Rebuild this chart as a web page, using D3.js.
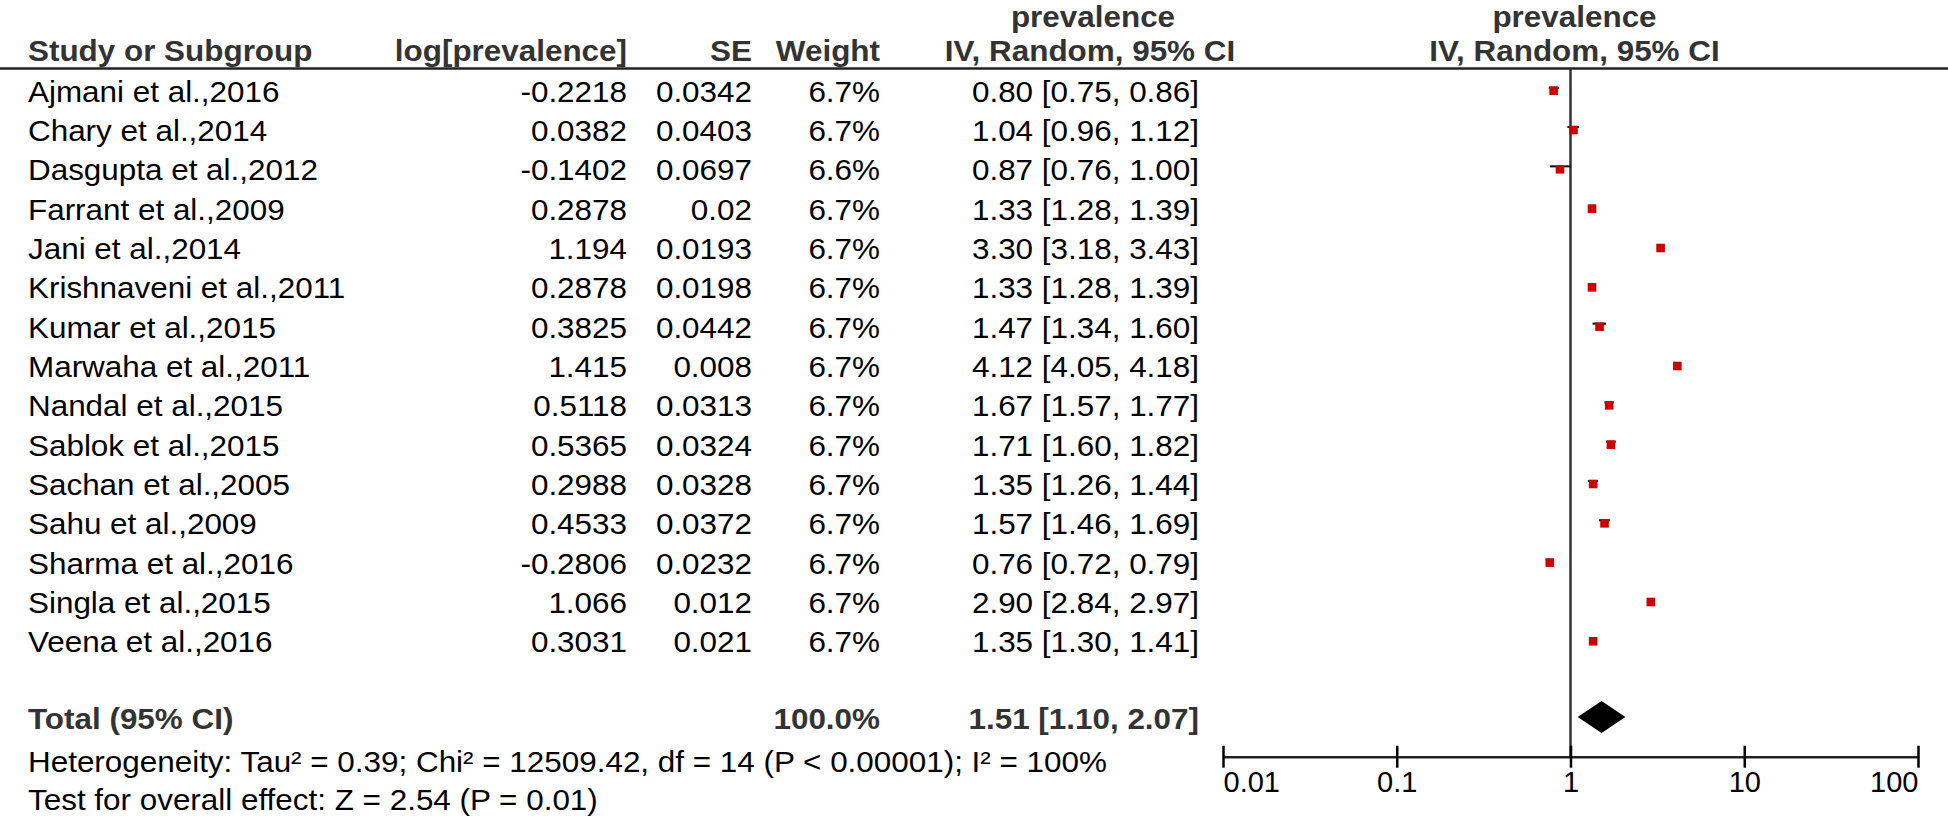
<!DOCTYPE html>
<html>
<head>
<meta charset="utf-8">
<script src="https://cdn.jsdelivr.net/npm/d3@7"></script>
<style>
  body { margin: 0; background: #fff; }
  svg text { font-family: "Liberation Sans", Arial, sans-serif; }
</style>
</head>
<body>
<svg id="svg"></svg>
<script>
// data
var studies = ['Ajmani et al.,2016', 'Chary et al.,2014', 'Dasgupta et al.,2012', 'Farrant et al.,2009',
  'Jani et al.,2014', 'Krishnaveni et al.,2011', 'Kumar et al.,2015', 'Marwaha et al.,2011',
  'Nandal et al.,2015', 'Sablok et al.,2015', 'Sachan et al.,2005', 'Sahu et al.,2009',
  'Sharma et al.,2016', 'Singla et al.,2015', 'Veena et al.,2016'];
var logPrev = [-0.2218, 0.0382, -0.1402, 0.2878, 1.194, 0.2878, 0.3825, 1.415, 0.5118, 0.5365, 0.2988, 0.4533, -0.2806, 1.066, 0.3031];
var se = [0.0342, 0.0403, 0.0697, 0.02, 0.0193, 0.0198, 0.0442, 0.008, 0.0313, 0.0324, 0.0328, 0.0372, 0.0232, 0.012, 0.021];
var weight = [6.7, 6.7, 6.6, 6.7, 6.7, 6.7, 6.7, 6.7, 6.7, 6.7, 6.7, 6.7, 6.7, 6.7, 6.7];
var prev = [0.80, 1.04, 0.87, 1.33, 3.30, 1.33, 1.47, 4.12, 1.67, 1.71, 1.35, 1.57, 0.76, 2.90, 1.35];
var prevLo = [0.75, 0.96, 0.76, 1.28, 3.18, 1.28, 1.34, 4.05, 1.57, 1.60, 1.26, 1.46, 0.72, 2.84, 1.30];
var prevHi = [0.86, 1.12, 1.00, 1.39, 3.43, 1.39, 1.60, 4.18, 1.77, 1.82, 1.44, 1.69, 0.79, 2.97, 1.41];
var totalWeight = 100.0;
var totalPrev = [1.51, 1.10, 2.07]; // estimate, lower, upper
var tickValues = [0.01, 0.1, 1, 10, 100];
var tickLabels = ['0.01', '0.1', '1', '10', '100'];
var hetText = 'Heterogeneity: Tau\u00b2 = 0.39; Chi\u00b2 = 12509.42, df = 14 (P < 0.00001); I\u00b2 = 100%';
var effectText = 'Test for overall effect: Z = 2.54 (P = 0.01)';

var width = 1948, height = 820;
var fs = 29.5, SX = 1.065;
var svg = d3.select('#svg').attr('width', width).attr('height', height);

var x = d3.scaleLog().domain([0.01, 100]).range([1223, 1918]);
var y = d3.scaleLinear().domain([0, 14]).range([90.7, 641.3]);
var box = d3.scaleSqrt().domain([0, 6.7]).range([0, 8.6]);

function txt(px, py, s, anchor, bold) {
  return svg.append('text')
    .attr('transform', 'translate(' + px + ',' + py + ') scale(' + SX + ',1)')
    .attr('text-anchor', anchor || 'start')
    .attr('font-size', fs)
    .attr('font-weight', bold ? 'bold' : 'normal')
    .attr('fill', bold ? '#333' : '#000')
    .text(s);
}

// column right edges
var cLog = 627, cSE = 752, cW = 880, cCI = 1199, cCIhead = 1090;

// header
txt(28, 61, 'Study or Subgroup', 'start', true);
txt(cLog, 61, 'log[prevalence]', 'end', true);
txt(cSE, 61, 'SE', 'end', true);
txt(cW, 61, 'Weight', 'end', true);
txt(cCIhead + 3, 27, 'prevalence', 'middle', true);
txt(cCIhead, 61, 'IV, Random, 95% CI', 'middle', true);
txt(x(1) + 4, 27, 'prevalence', 'middle', true);
txt(x(1) + 4, 61, 'IV, Random, 95% CI', 'middle', true);

svg.append('line').attr('x1', 0).attr('x2', width).attr('y1', 68.5).attr('y2', 68.5)
  .attr('stroke', '#222').attr('stroke-width', 2.5);

// study rows
studies.forEach(function (s, i) {
  var by = y(i) + 11;
  txt(28, by, s);
  txt(cLog, by, String(logPrev[i]), 'end');
  txt(cSE, by, String(se[i]), 'end');
  txt(cW, by, weight[i].toFixed(1) + '%', 'end');
  txt(cCI, by, prev[i].toFixed(2) + ' [' + prevLo[i].toFixed(2) + ', ' + prevHi[i].toFixed(2) + ']', 'end');
});

// total row
var ty = y(16) - 3;
txt(28, ty + 12, 'Total (95% CI)', 'start', true);
txt(cW, ty + 12, totalWeight.toFixed(1) + '%', 'end', true);
txt(cCI, ty + 12, totalPrev[0].toFixed(2) + ' [' + totalPrev[1].toFixed(2) + ', ' + totalPrev[2].toFixed(2) + ']', 'end', true);
txt(28, 772, hetText);
txt(28, 810, effectText);

// line of no effect
var axisY = 756.7;
svg.append('line').attr('x1', x(1)).attr('x2', x(1)).attr('y1', 68.5).attr('y2', axisY)
  .attr('stroke', '#333').attr('stroke-width', 2.5);

// CIs and boxes
var rows = svg.append('g');
studies.forEach(function (s, i) {
  var cy = y(i), b = box(weight[i]);
  rows.append('line').attr('x1', x(prevLo[i])).attr('x2', x(prevHi[i]))
    .attr('y1', cy - 3).attr('y2', cy - 3).attr('stroke', '#000').attr('stroke-width', 2);
  rows.append('rect').attr('x', x(prev[i]) - b / 2).attr('y', cy - b / 2)
    .attr('width', b).attr('height', b).attr('fill', '#cc0000');
});

// diamond
var dh = 16;
svg.append('path')
  .attr('d', 'M' + x(totalPrev[1]) + ',' + ty + 'L' + x(totalPrev[0]) + ',' + (ty - dh) +
    'L' + x(totalPrev[2]) + ',' + ty + 'L' + x(totalPrev[0]) + ',' + (ty + dh) + 'Z')
  .attr('fill', '#000');

// axis
var axis = d3.axisBottom(x).tickValues(tickValues)
  .tickFormat(function (d, i) { return tickLabels[i]; })
  .tickSizeInner(11).tickSizeOuter(0).tickPadding(4);
var ag = svg.append('g').attr('transform', 'translate(0,' + axisY + ')').call(axis);
ag.select('.domain').attr('stroke', '#222').attr('stroke-width', 2.5);
ag.selectAll('.tick line').attr('y1', -11).attr('stroke', '#000').attr('stroke-width', 2.5);
ag.selectAll('.tick text').attr('font-size', 29).attr('fill', '#000')
  .attr('font-family', '"Liberation Sans", Arial, sans-serif');
ag.selectAll('.tick text').filter(function (d, i) { return i === 0; }).attr('text-anchor', 'start');
ag.selectAll('.tick text').filter(function (d, i) { return i === tickValues.length - 1; }).attr('text-anchor', 'end');
</script>
</body>
</html>
